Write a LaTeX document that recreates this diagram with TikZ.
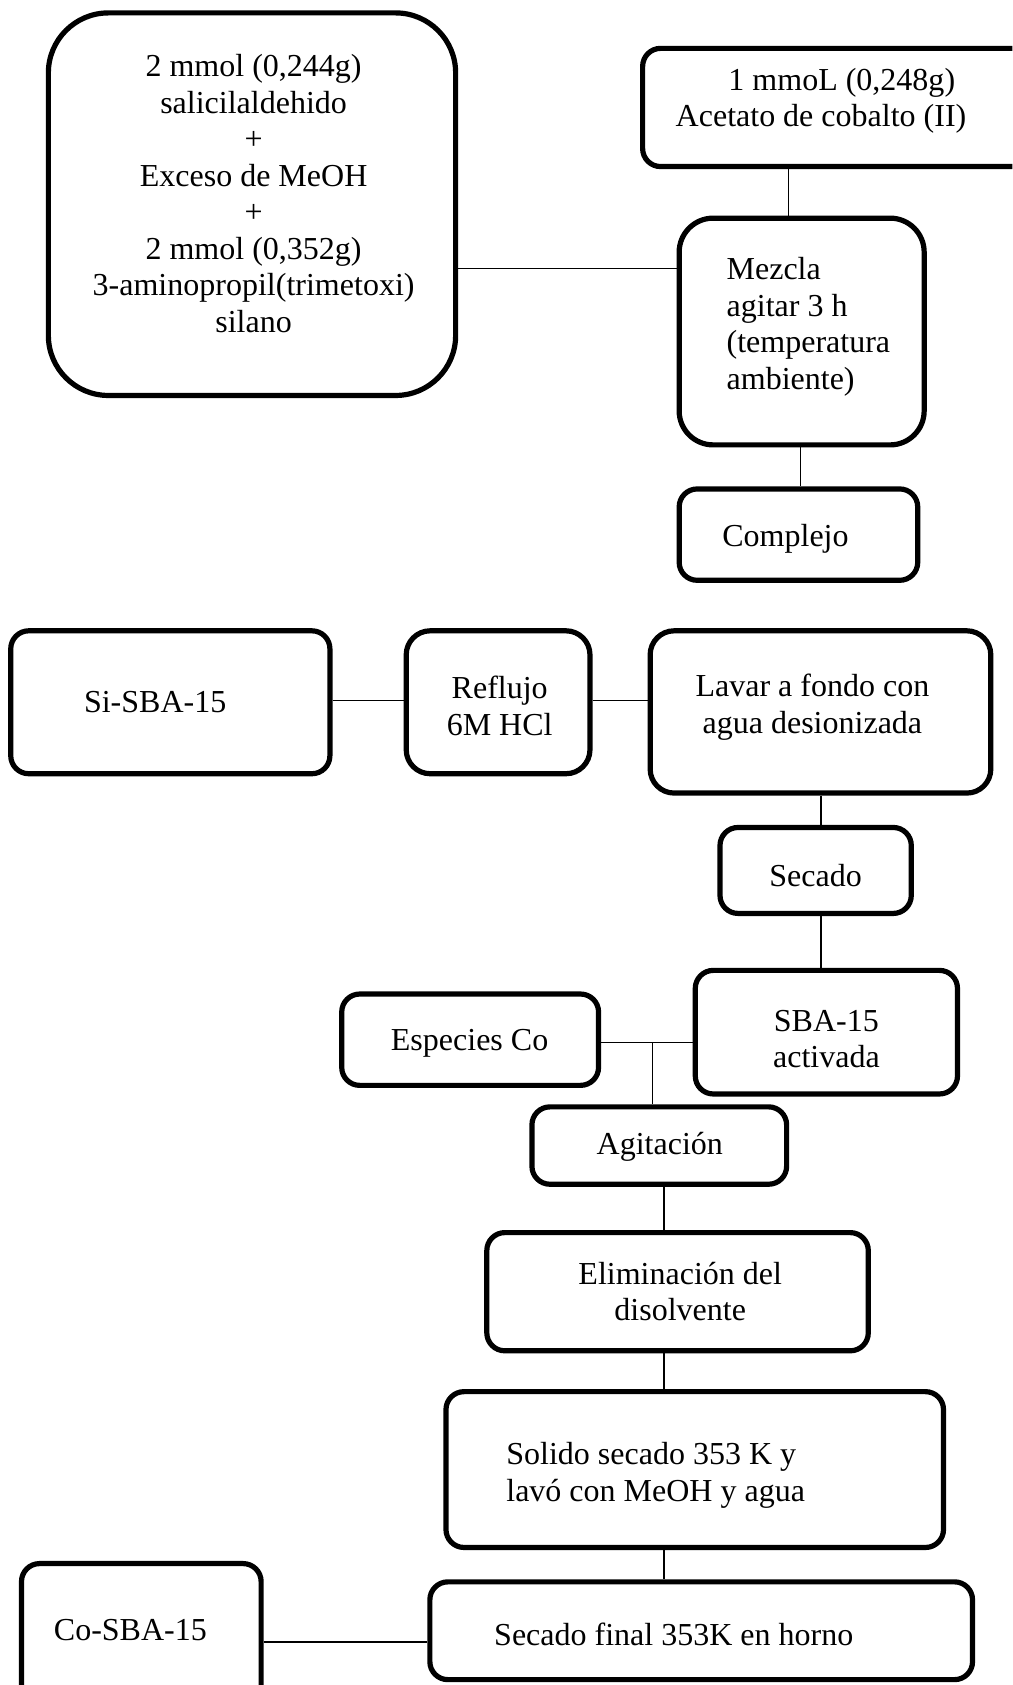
\documentclass[tikz,border=0pt]{standalone}
\usepackage{fontspec}
\setmainfont{Liberation Serif}
\usetikzlibrary{fit}
\begin{document}
\begin{tikzpicture}[x=1.0743pt,y=-1.0743pt,
  box/.style={draw, line width=5.2pt, rounded corners=18pt, inner sep=0pt},
  txt/.style={font=\fontsize{32}{36.5}\selectfont, inner sep=0pt},
  link/.style={line width=1.3pt}]
\useasboundingbox (0,0) rectangle (942,1568);
\clip (0,0) rectangle (942,1568);
% boxes
\node[box, rounded corners=60pt, fit={(45,12) (424,368)}] (big) {};
\node[box, fit={(598,45) (960,155)}] (ace) {};
\node[box, rounded corners=34pt, fit={(632,203) (860,414)}] (mez) {};
\node[box, fit={(632,455) (854,540)}] (comp) {};
\node[box, fit={(10,587) (307,720)}] (si) {};
\node[box, rounded corners=24pt, fit={(378,587) (549,720)}] (ref) {};
\node[box, rounded corners=24pt, fit={(605,587) (922,738)}] (lav) {};
\node[box, fit={(670,770) (848,850)}] (sec) {};
\node[box, fit={(647,903) (891,1018)}] (sba) {};
\node[box, fit={(318,925) (557,1010)}] (esp) {};
\node[box, fit={(495,1030) (732,1102)}] (agi) {};
\node[box, fit={(453,1147) (808,1257)}] (eli) {};
\node[box, fit={(415,1295) (878,1440)}] (sol) {};
\node[box, fit={(400,1472) (905,1563)}] (fin) {};
\node[box, fit={(20,1455) (243,1590)}] (co) {};
% texts
\node[txt, align=center] (tbig) at (236,180) {2 mmol (0,244g)\\salicilaldehido\\+\\Exceso de MeOH\\+\\2 mmol (0,352g)\\3-aminopropil(trimetoxi)\\silano};
\node[txt, align=center] (tace) at (764,94) {\hspace*{1.3em}1 mmoL (0,248g)\\Acetato de cobalto (II)};
\node[txt, align=left, anchor=west] (tmez) at (676,304) {Mezcla\\agitar 3 h\\(temperatura\\ambiente)};
\node[txt, anchor=west] (tcomp) at (672,501) {Complejo};
\node[txt, anchor=west] (tsi) at (78,653) {Si-SBA-15};
\node[txt, align=center] (tref) at (465,657) {Reflujo\\6M HCl};
\node[txt, align=center] (tlav) at (756,658) {Lavar a fondo con\\agua desionizada};
\node[txt] (tsec) at (759,815) {Secado};
\node[txt, align=center] (tsba) at (769,967) {SBA-15\\activada};
\node[txt] (tesp) at (437,971) {Especies Co};
\node[txt] (tagi) at (614,1067) {Agitación};
\node[txt, align=center] (teli) at (633,1202) {Eliminación del\\disolvente};
\node[txt, align=left, anchor=west] (tsol) at (471,1373) {Solido secado 353 K y\\lavó con MeOH y agua};
\node[txt] (tfin) at (627,1521) {Secado final 353K en horno};
\node[txt, anchor=west] (tco) at (50,1517) {Co-SBA-15};
% helper coordinates
\coordinate (r1) at (0,250);
\coordinate (cA) at (734,0);
\coordinate (cB) at (745,0);
\coordinate (r2) at (0,652);
\coordinate (cC) at (764,0);
\coordinate (j) at (607,970);
\coordinate (cD) at (618,0);
\coordinate (r3) at (0,1528);
% connectors
\draw[link] (big.east |- r1) -- (mez.west |- r1);
\draw[link] (ace.south -| cA) -- (mez.north -| cA);
\draw[link] (mez.south -| cB) -- (comp.north -| cB);
\draw[link] (si.east |- r2) -- (ref.west |- r2);
\draw[link] (ref.east |- r2) -- (lav.west |- r2);
\draw[link] (lav.south -| cC) -- (sec.north -| cC);
\draw[link] (sec.south -| cC) -- (sba.north -| cC);
\draw[link] (esp.east |- j) -- (sba.west |- j);
\draw[link] (j) -- (agi.north -| j);
\draw[link] (agi.south -| cD) -- (eli.north -| cD);
\draw[link] (eli.south -| cD) -- (sol.north -| cD);
\draw[link] (sol.south -| cD) -- (fin.north -| cD);
\draw[link] (co.east |- r3) -- (fin.west |- r3);
\end{tikzpicture}
\end{document}
